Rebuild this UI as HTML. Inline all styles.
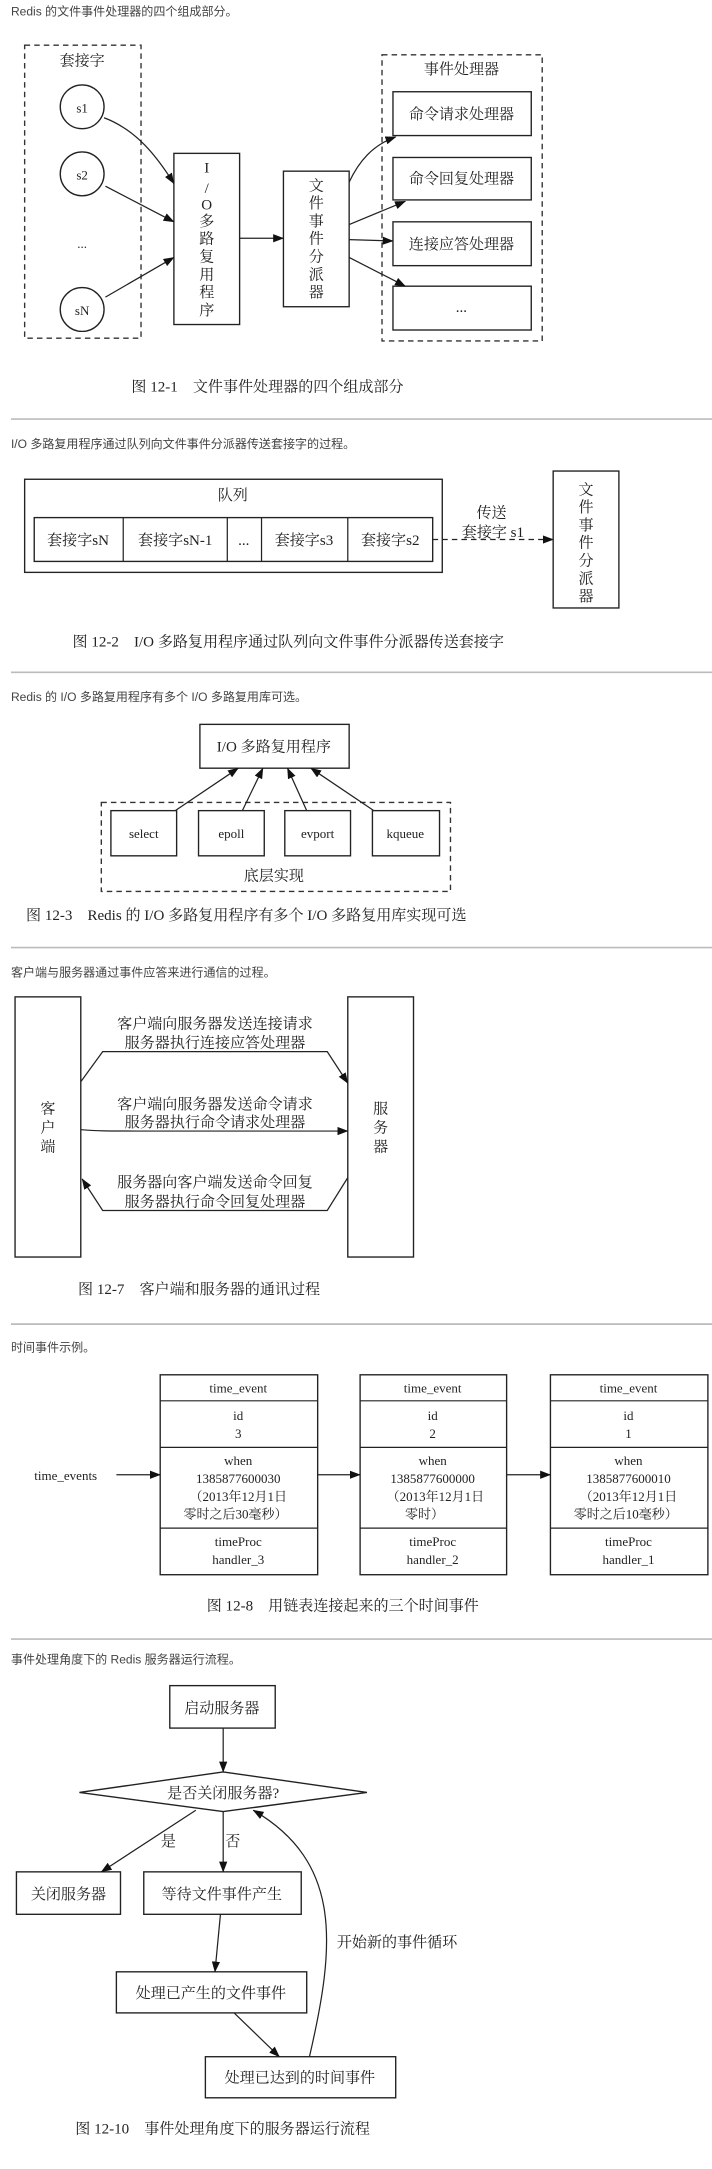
<!DOCTYPE html>
<html><head><meta charset="utf-8"><style>
html,body{margin:0;padding:0;background:#fff;}
svg{display:block;}
.d{font-family:"Liberation Sans","Noto Sans CJK SC",sans-serif;font-size:8.8px;fill:#444;}
.c{font-family:"Liberation Serif","Noto Serif CJK SC",serif;font-size:11px;fill:#222;}
.n{font-family:"Liberation Serif","Noto Serif CJK SC",serif;font-size:11px;fill:#222;text-anchor:middle;}
.s{font-family:"Liberation Serif","Noto Serif CJK SC",serif;font-size:9.5px;fill:#222;text-anchor:middle;}
.b{fill:#fff;stroke:#222;stroke-width:1;}
.ds{fill:none;stroke:#333;stroke-width:1;stroke-dasharray:4,3;}
.l{fill:none;stroke:#222;stroke-width:0.9;}
.sep{stroke:#bbb;stroke-width:1.2;}
</style></head><body>
<svg width="712" height="2169" viewBox="0 0 520 1584" preserveAspectRatio="none" xmlns="http://www.w3.org/2000/svg">
<defs><marker id="a" markerWidth="8" markerHeight="6" refX="7.5" refY="3" orient="auto" markerUnits="userSpaceOnUse"><path d="M0,0 L8,3 L0,6 z" fill="#111"/></marker></defs>

<!-- Section 1 -->
<text class="d" x="8" y="11.5">Redis 的文件事件处理器的四个组成部分。</text>
<rect class="ds" x="18" y="33" width="85" height="214"/>
<text class="n" x="60" y="48" font-size="12">套接字</text>
<circle class="b" cx="60" cy="78" r="16"/><text class="s" x="60" y="82">s1</text>
<circle class="b" cx="60" cy="127" r="16"/><text class="s" x="60" y="131">s2</text>
<text class="s" x="60" y="181">...</text>
<circle class="b" cx="60" cy="226" r="16"/><text class="s" x="60" y="230">sN</text>
<rect class="b" x="127" y="112" width="48" height="125"/>
<g class="n" font-size="11">
<text x="151" y="126">I</text><text x="151" y="141">/</text><text x="151" y="153">O</text>
<text x="151" y="165">多</text><text x="151" y="178">路</text><text x="151" y="191">复</text><text x="151" y="204">用</text><text x="151" y="217">程</text><text x="151" y="230">序</text>
</g>
<rect class="b" x="207" y="125" width="48" height="99"/>
<g class="n"><text x="231" y="139">文</text><text x="231" y="152">件</text><text x="231" y="165">事</text><text x="231" y="178">件</text><text x="231" y="191">分</text><text x="231" y="204">派</text><text x="231" y="217">器</text></g>
<rect class="ds" x="279" y="40" width="117" height="209"/>
<text class="n" x="337" y="54" font-size="12">事件处理器</text>
<rect class="b" x="287" y="67" width="101" height="32"/><text class="n" x="337" y="87">命令请求处理器</text>
<rect class="b" x="287" y="115" width="101" height="31"/><text class="n" x="337" y="134">命令回复处理器</text>
<rect class="b" x="287" y="162" width="101" height="32"/><text class="n" x="337" y="182">连接应答处理器</text>
<rect class="b" x="287" y="209" width="101" height="32"/><text class="n" x="337" y="228">...</text>
<path class="l" marker-end="url(#a)" d="M76,86 C100,95 115,115 127,134"/>
<path class="l" marker-end="url(#a)" d="M77,136 L127,162"/>
<path class="l" marker-end="url(#a)" d="M77,217 L127,188"/>
<path class="l" marker-end="url(#a)" d="M175,174 L207,174"/>
<path class="l" marker-end="url(#a)" d="M255,133 C262,118 272,106 289,100"/>
<path class="l" marker-end="url(#a)" d="M255,164 L296,147"/>
<path class="l" marker-end="url(#a)" d="M255,175 L287,176"/>
<path class="l" marker-end="url(#a)" d="M255,188 L296,209"/>
<text class="c" x="96" y="286">图 12-1　文件事件处理器的四个组成部分</text>
<line class="sep" x1="8" y1="306" x2="520" y2="306"/>

<!-- Section 2 -->
<text class="d" x="8" y="327">I/O 多路复用程序通过队列向文件事件分派器传送套接字的过程。</text>
<rect class="b" x="18" y="350" width="305" height="68"/>
<text class="n" x="170" y="365" font-size="12">队列</text>
<rect class="b" x="25" y="378" width="291" height="32"/>
<line class="l" x1="90" y1="378" x2="90" y2="410"/><line class="l" x1="166" y1="378" x2="166" y2="410"/>
<line class="l" x1="191" y1="378" x2="191" y2="410"/><line class="l" x1="254" y1="378" x2="254" y2="410"/>
<g class="n"><text x="57" y="398">套接字sN</text><text x="128" y="398">套接字sN-1</text><text x="178" y="398">...</text><text x="222" y="398">套接字s3</text><text x="285" y="398">套接字s2</text></g>
<path class="l" stroke-dasharray="4,3" marker-end="url(#a)" d="M316,394 L404,394"/>
<text class="n" x="359" y="378" font-size="12">传送</text>
<text class="n" x="360" y="392" font-size="12">套接字 s1</text>
<rect class="b" x="404" y="344" width="48" height="100"/>
<g class="n"><text x="428" y="361">文</text><text x="428" y="374">件</text><text x="428" y="387">事</text><text x="428" y="400">件</text><text x="428" y="413">分</text><text x="428" y="426">派</text><text x="428" y="439">器</text></g>
<text class="c" x="53" y="472">图 12-2　I/O 多路复用程序通过队列向文件事件分派器传送套接字</text>
<line class="sep" x1="8" y1="491" x2="520" y2="491"/>

<!-- Section 3 -->
<text class="d" x="8" y="512">Redis 的 I/O 多路复用程序有多个 I/O 多路复用库可选。</text>
<rect class="b" x="146" y="529" width="109" height="32"/>
<text class="n" x="200" y="549">I/O 多路复用程序</text>
<rect class="ds" x="74" y="586" width="255" height="65"/>
<rect class="b" x="81" y="592" width="48" height="33"/><text class="s" x="105" y="612">select</text>
<rect class="b" x="145" y="592" width="48" height="33"/><text class="s" x="169" y="612">epoll</text>
<rect class="b" x="208" y="592" width="48" height="33"/><text class="s" x="232" y="612">evport</text>
<rect class="b" x="272" y="592" width="49" height="33"/><text class="s" x="296" y="612">kqueue</text>
<path class="l" marker-end="url(#a)" d="M128,592 L174,561"/>
<path class="l" marker-end="url(#a)" d="M177,592 L192,561"/>
<path class="l" marker-end="url(#a)" d="M224,592 L210,561"/>
<path class="l" marker-end="url(#a)" d="M273,592 L227,561"/>
<text class="n" x="200" y="643" font-size="12">底层实现</text>
<text class="c" x="19" y="672">图 12-3　Redis 的 I/O 多路复用程序有多个 I/O 多路复用库实现可选</text>
<line class="sep" x1="8" y1="692" x2="520" y2="692"/>

<!-- Section 4 -->
<text class="d" x="8" y="713">客户端与服务器通过事件应答来进行通信的过程。</text>
<rect class="b" x="11" y="728" width="48" height="190"/>
<rect class="b" x="254" y="728" width="48" height="190"/>
<g class="n" font-size="12"><text x="35" y="813">客</text><text x="35" y="827">户</text><text x="35" y="841">端</text>
<text x="278" y="813">服</text><text x="278" y="827">务</text><text x="278" y="841">器</text></g>
<text class="n" x="157" y="751" font-size="12">客户端向服务器发送连接请求</text>
<text class="n" x="157" y="765" font-size="12">服务器执行连接应答处理器</text>
<path class="l" marker-end="url(#a)" d="M59,790 L75,768 L239,768 L254,791"/>
<text class="n" x="157" y="810" font-size="12">客户端向服务器发送命令请求</text>
<text class="n" x="157" y="823" font-size="12">服务器执行命令请求处理器</text>
<path class="l" marker-end="url(#a)" d="M59,825 C70,826 80,826 100,826 L254,826"/>
<text class="n" x="157" y="867" font-size="12">服务器向客户端发送命令回复</text>
<text class="n" x="157" y="881" font-size="12">服务器执行命令回复处理器</text>
<path class="l" marker-end="url(#a)" d="M254,860 L239,884 L75,884 L60,861"/>
<text class="c" x="57" y="945">图 12-7　客户端和服务器的通讯过程</text>
<line class="sep" x1="8" y1="967" x2="520" y2="967"/>

<!-- Section 5 -->
<text class="d" x="8" y="987">时间事件示例。</text>
<g>
<rect class="b" x="117" y="1004" width="115" height="146"/>
<line class="l" x1="117" y1="1023" x2="232" y2="1023"/><line class="l" x1="117" y1="1057" x2="232" y2="1057"/><line class="l" x1="117" y1="1116" x2="232" y2="1116"/>
<rect class="b" x="263" y="1004" width="107" height="146"/>
<line class="l" x1="263" y1="1023" x2="370" y2="1023"/><line class="l" x1="263" y1="1057" x2="370" y2="1057"/><line class="l" x1="263" y1="1116" x2="370" y2="1116"/>
<rect class="b" x="402" y="1004" width="115" height="146"/>
<line class="l" x1="402" y1="1023" x2="517" y2="1023"/><line class="l" x1="402" y1="1057" x2="517" y2="1057"/><line class="l" x1="402" y1="1116" x2="517" y2="1116"/>
</g>
<g class="s">
<text x="174" y="1017">time_event</text><text x="174" y="1037">id</text><text x="174" y="1050">3</text>
<text x="174" y="1070">when</text><text x="174" y="1083">1385877600030</text><text x="174" y="1096">（2013年12月1日</text><text x="172" y="1109">零时之后30毫秒）</text>
<text x="174" y="1129">timeProc</text><text x="174" y="1142">handler_3</text>
<text x="316" y="1017">time_event</text><text x="316" y="1037">id</text><text x="316" y="1050">2</text>
<text x="316" y="1070">when</text><text x="316" y="1083">1385877600000</text><text x="318" y="1096">（2013年12月1日</text><text x="310" y="1109">零时）</text>
<text x="316" y="1129">timeProc</text><text x="316" y="1142">handler_2</text>
<text x="459" y="1017">time_event</text><text x="459" y="1037">id</text><text x="459" y="1050">1</text>
<text x="459" y="1070">when</text><text x="459" y="1083">1385877600010</text><text x="459" y="1096">（2013年12月1日</text><text x="457" y="1109">零时之后10毫秒）</text>
<text x="459" y="1129">timeProc</text><text x="459" y="1142">handler_1</text>
<text x="48" y="1081">time_events</text>
</g>
<path class="l" marker-end="url(#a)" d="M85,1077 L117,1077"/>
<path class="l" marker-end="url(#a)" d="M232,1077 L263,1077"/>
<path class="l" marker-end="url(#a)" d="M370,1077 L402,1077"/>
<text class="c" x="151" y="1176">图 12-8　用链表连接起来的三个时间事件</text>
<line class="sep" x1="8" y1="1197" x2="520" y2="1197"/>

<!-- Section 6 -->
<text class="d" x="8" y="1215">事件处理角度下的 Redis 服务器运行流程。</text>
<rect class="b" x="124" y="1231" width="77" height="31"/>
<text class="n" x="162" y="1251" font-size="12">启动服务器</text>
<path class="l" marker-end="url(#a)" d="M163,1262 L163,1294"/>
<path class="b" d="M58,1309 L163,1294 L268,1309 L163,1323 z"/>
<text class="n" x="163" y="1313" font-size="12">是否关闭服务器?</text>
<rect class="b" x="12" y="1367" width="76" height="31"/>
<text class="n" x="50" y="1387" font-size="12">关闭服务器</text>
<rect class="b" x="105" y="1367" width="115" height="31"/>
<text class="n" x="162" y="1387" font-size="12">等待文件事件产生</text>
<path class="l" marker-end="url(#a)" d="M143,1322 L74,1367"/>
<text class="n" x="123" y="1348" font-size="12">是</text>
<path class="l" marker-end="url(#a)" d="M163,1323 L163,1367"/>
<text class="n" x="170" y="1348" font-size="12">否</text>
<rect class="b" x="85" y="1440" width="139" height="30"/>
<text class="n" x="154" y="1459" font-size="12">处理已产生的文件事件</text>
<path class="l" marker-end="url(#a)" d="M161,1398 L157,1440"/>
<rect class="b" x="150" y="1502" width="139" height="30"/>
<text class="n" x="219" y="1521" font-size="12">处理已达到的时间事件</text>
<path class="l" marker-end="url(#a)" d="M171,1470 L204,1502"/>
<path class="l" marker-end="url(#a)" d="M226,1502 C245,1420 250,1360 185,1322"/>
<text class="n" x="290" y="1422" font-size="12">开始新的事件循环</text>
<text class="c" x="55" y="1558">图 12-10　事件处理角度下的服务器运行流程</text>
</svg>
</body></html>
